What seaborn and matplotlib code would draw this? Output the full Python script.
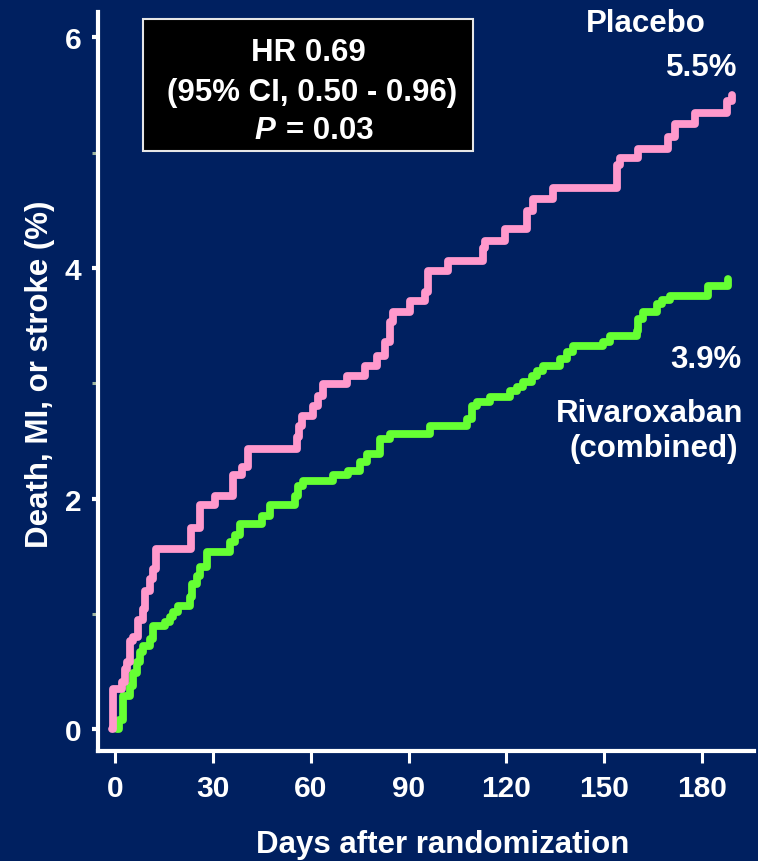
import matplotlib
matplotlib.use("Agg")
import matplotlib.pyplot as plt
import numpy as np
import pandas as pd
import seaborn as sns
from matplotlib.patches import Rectangle

# Cumulative event rate (%) at each step of the Kaplan-Meier curves
placebo_days = [-1.0, -0.7, 2.1, 3.0, 3.6, 4.5, 5.4, 7.0, 8.5, 9.1, 10.7, 11.6, 12.5,
                23.2, 26.0, 30.6, 36.1, 38.9, 40.7, 55.8, 56.4, 57.3, 60.6, 62.2, 63.7,
                71.1, 76.6, 80.3, 82.8, 84.3, 85.3, 90.4, 95.0, 95.9, 102.1, 112.8, 113.4,
                119.6, 126.3, 128.2, 134.3, 153.9, 154.8, 160.4, 169.6, 171.8, 177.8,
                187.7, 189.2]
placebo_pct = [0.0, 0.35, 0.41, 0.52, 0.58, 0.76, 0.80, 0.95, 1.04, 1.20, 1.30, 1.39, 1.56,
               1.74, 1.94, 2.02, 2.20, 2.27, 2.43, 2.53, 2.63, 2.72, 2.80, 2.89, 2.99,
               3.06, 3.15, 3.24, 3.36, 3.53, 3.62, 3.71, 3.79, 3.97, 4.06, 4.17, 4.23,
               4.34, 4.49, 4.60, 4.69, 4.89, 4.95, 5.03, 5.14, 5.25, 5.34,
               5.45, 5.5]

rivaroxaban_days = [0.5, 1.0, 2.4, 4.5, 5.4, 6.7, 7.6, 8.5, 10.7, 11.6, 15.3, 16.8, 17.7,
                    19.2, 22.9, 23.5, 25.0, 26.0, 28.1, 35.2, 36.7, 38.3, 45.0, 47.5, 55.1,
                    56.1, 57.6, 66.8, 71.4, 75.1, 77.2, 81.2, 84.3, 96.5, 107.9, 109.5,
                    110.9, 114.9, 121.1, 123.2, 125.1, 127.8, 129.4, 131.2, 136.4, 138.6,
                    140.4, 149.6, 151.8, 160.1, 160.4, 161.9, 166.2, 167.7, 170.2, 181.8,
                    188.0]
rivaroxaban_pct = [0.0, 0.08, 0.29, 0.37, 0.49, 0.58, 0.67, 0.72, 0.78, 0.89, 0.93, 0.97, 1.02,
                   1.07, 1.15, 1.26, 1.33, 1.41, 1.54, 1.62, 1.68, 1.78, 1.85, 1.94, 2.02,
                   2.11, 2.15, 2.20, 2.24, 2.32, 2.39, 2.52, 2.56, 2.63, 2.69, 2.80,
                   2.84, 2.88, 2.93, 2.97, 3.01, 3.06, 3.11, 3.15, 3.21, 3.27,
                   3.32, 3.36, 3.41, 3.45, 3.56, 3.62, 3.69, 3.72, 3.76, 3.84,
                   3.9]

arm_names = ["Rivaroxaban", "Placebo"]
x_ticks = [0, 30, 60, 90, 120, 150, 180]
y_ticks = [0, 2, 4, 6]
y_minor_ticks = [1, 3, 5]
hr_text = "HR 0.69"
ci_text = "(95% CI, 0.50 - 0.96)"
p_symbol = "P"
p_value_text = "= 0.03"

NAVY = "#002060"
PINK = "#ff99cc"
GREEN = "#66ff33"
WHITE = "white"

sns.set_style("ticks")
plt.rcParams["font.family"] = ["Liberation Sans", "DejaVu Sans"]
plt.rcParams["font.weight"] = "bold"

df = pd.concat([
    pd.DataFrame({"day": rivaroxaban_days, "pct": rivaroxaban_pct, "arm": arm_names[0]}),
    pd.DataFrame({"day": placebo_days, "pct": placebo_pct, "arm": arm_names[1]}),
], ignore_index=True)

W, H = 758, 862
fig = plt.figure(figsize=(W / 100, H / 100), dpi=100, facecolor=NAVY)
ax = fig.add_axes([98 / W, 110 / H, 656 / W, 739 / H])
ax.set_facecolor(NAVY)

sns.lineplot(data=df, x="day", y="pct", hue="arm", hue_order=arm_names,
             palette={arm_names[0]: GREEN, arm_names[1]: PINK},
             estimator=None, drawstyle="steps-post", lw=5.6, legend=False, ax=ax,
             solid_capstyle="round", solid_joinstyle="round")

ax.set_xlim(-5.3, 196)
ax.set_ylim(-0.19, 6.22)

for side in ("top", "right"):
    ax.spines[side].set_visible(False)
for side in ("left", "bottom"):
    ax.spines[side].set_color(WHITE)
    ax.spines[side].set_linewidth(3)

ax.set_xticks(x_ticks)
ax.set_xticklabels([str(t) for t in x_ticks])
ax.set_yticks(y_ticks)
ax.set_yticklabels([str(t) for t in y_ticks])
ax.set_yticks(y_minor_ticks, minor=True)
ax.tick_params(axis="x", colors=WHITE, length=8.6, width=2.2, pad=8, labelsize=21.5)
ax.tick_params(axis="y", which="major", colors=WHITE, length=4, width=3, pad=8, labelsize=21.5)
ax.tick_params(axis="y", which="minor", color="#9fb59f", length=4, width=2.2)

ax.set_xlabel("Days after randomization", fontsize=22.5, color=WHITE, fontweight="bold")
ax.xaxis.set_label_coords(0.526, -0.106)
ax.set_ylabel("Death, MI, or stroke (%)", fontsize=22.5, color=WHITE, fontweight="bold")
ax.yaxis.set_label_coords(-0.0655, 0.511)


def fpx(x, y):
    return x / W, 1 - y / H


# Hazard ratio box
fig.patches.append(Rectangle(fpx(143, 152), 330 / W, 132 / H, transform=fig.transFigure,
                             facecolor="black", edgecolor="#e6e6e6", lw=1.5, zorder=5))
txt = dict(color=WHITE, fontsize=22.5, fontweight="bold", va="baseline", zorder=6)
fig.text(*fpx(308, 61), hr_text, ha="center", **txt)
fig.text(*fpx(312, 101), ci_text, ha="center", **txt)
fig.text(*fpx(275, 139), p_symbol, ha="right", style="italic", **txt)
fig.text(*fpx(286, 139), p_value_text, ha="left", **txt)

# Arm labels with final event rates
fig.text(*fpx(646, 32), "Placebo", ha="center", **txt)
fig.text(*fpx(737, 76), f"{placebo_pct[-1]:.1f}%", ha="right", **txt)
fig.text(*fpx(742, 368), f"{rivaroxaban_pct[-1]:.1f}%", ha="right", **txt)
fig.text(*fpx(650, 422), "Rivaroxaban", ha="center", **txt)
fig.text(*fpx(654, 457), "(combined)", ha="center", **txt)

fig.savefig("out.png", dpi=100, facecolor=NAVY)
